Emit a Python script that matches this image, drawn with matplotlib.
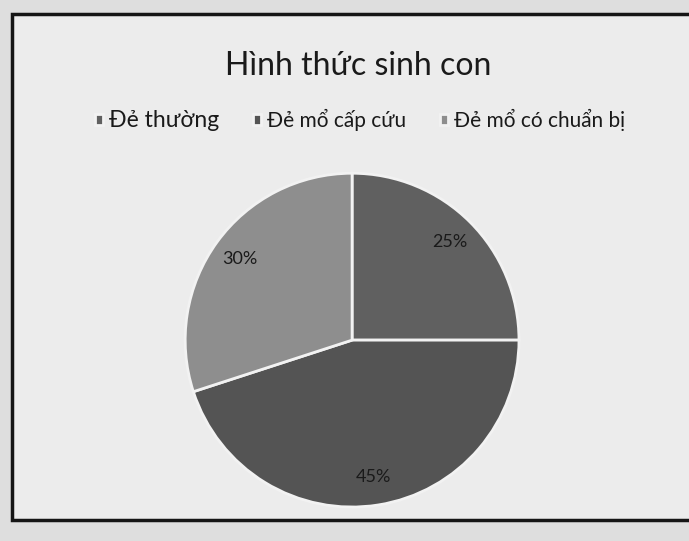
import numpy as np
import matplotlib.pyplot as plt
from matplotlib.patches import Rectangle

# du lieu
labels = ['Đẻ thường', 'Đẻ mổ cấp cứu', 'Đẻ mổ có chuẩn bị']
sizes = [25, 45, 30]
colors = ['#606060', '#545454', '#8e8e8e']
pct_labels = ['25%', '45%', '30%']

plt.rcParams['font.family'] = ['Lato', 'DejaVu Sans']

fig = plt.figure(figsize=(6.89, 5.41), dpi=100)
fig.patch.set_facecolor('#dedede')

# khung
khung = Rectangle((12 / 689, 1 - 520 / 541), 700 / 689, 506 / 541,
                  transform=fig.transFigure, facecolor='#ececec',
                  edgecolor='#151515', linewidth=2.5, zorder=-1)
fig.patches.append(khung)

ax = fig.add_axes([0.2685, 0.0628, 0.485, 0.617])
ax.set_zorder(2)
ax.patch.set_visible(False)
wedges, texts = ax.pie(sizes, colors=colors, startangle=90, counterclock=False,
                       wedgeprops=dict(edgecolor='#f2f2f2', linewidth=2))
for w, t in zip(wedges, pct_labels):
    ang = np.deg2rad((w.theta1 + w.theta2) / 2)
    ax.text(0.83 * np.cos(ang), 0.83 * np.sin(ang), t, ha='center', va='center',
            fontsize=13, color='#1a1a1a')
ax.set_xlim(-1, 1)
ax.set_ylim(-1, 1)
ax.set_aspect('equal')
ax.axis('off')

fig.text(358 / 689, 1 - 66 / 541, 'Hình thức sinh con', ha='center', va='center',
         fontsize=23, color='#1a1a1a')

leg = fig.legend(wedges, labels, loc='center', bbox_to_anchor=(360 / 689, 1 - 120 / 541),
                 ncol=3, frameon=False, fontsize=15, handlelength=0.4, handleheight=0.4,
                 columnspacing=1.6, handletextpad=0.3, labelcolor='#1a1a1a')
leg.get_texts()[0].set_fontsize(16.5)
leg.set_zorder(3)

fig.savefig('out.png', dpi=100)
